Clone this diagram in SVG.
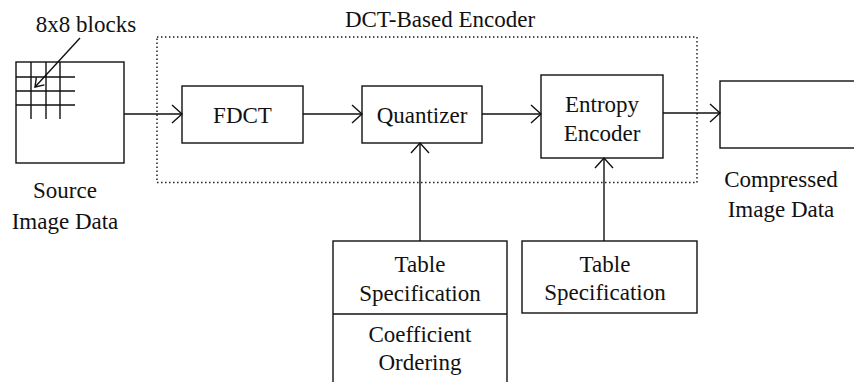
<svg xmlns="http://www.w3.org/2000/svg" width="854" height="382" viewBox="0 0 854 382">
<style>
.box{fill:none;stroke:#111;stroke-width:1.4}
.ln{fill:none;stroke:#111;stroke-width:1.4}
.t{font-family:"Liberation Serif","Times New Roman",serif;font-size:23px;fill:#111;text-anchor:middle}
.dot{fill:none;stroke:#111;stroke-width:1.4;stroke-dasharray:1.4 2.6}
</style>
<defs>
<marker id="arr" markerUnits="userSpaceOnUse" markerWidth="24" markerHeight="24" viewBox="-12 -12 24 24" refX="0" refY="0" orient="auto">
<path d="M-10,-9 L0,0 L-10,9" fill="none" stroke="#111" stroke-width="1.4"/>
</marker>
<marker id="arrs" markerUnits="userSpaceOnUse" markerWidth="20" markerHeight="20" viewBox="-10 -10 20 20" refX="0" refY="0" orient="auto">
<path d="M-8,-5.5 L0,0 L-8,5.5" fill="none" stroke="#111" stroke-width="1.4"/>
</marker>
</defs>
<g id="encoder">
<rect class="dot" x="157" y="37" width="540" height="145.5"/>
<text class="t" x="440" y="27">DCT-Based Encoder</text>
</g>
<g id="source">
<rect class="box" x="16" y="62" width="108" height="101"/>
<path class="ln" d="M31,62V119M46,62V119M60,62V119M16,77H75M16,91H75M16,105H75"/>
<text class="t" x="86" y="32">8x8 blocks</text>
<text class="t" x="65" y="198">Source</text>
<text class="t" x="65" y="229">Image Data</text>
</g>
<g id="fdct">
<rect class="box" x="182" y="86" width="121" height="57"/>
<text class="t" x="242.5" y="123">FDCT</text>
</g>
<g id="quantizer">
<rect class="box" x="362" y="86" width="120" height="57"/>
<text class="t" x="422" y="123">Quantizer</text>
</g>
<g id="entropy">
<rect class="box" x="541" y="75" width="122" height="83"/>
<text class="t" x="602" y="112">Entropy</text>
<text class="t" x="602" y="141">Encoder</text>
</g>
<g id="compressed">
<rect class="box" x="720" y="81" width="150" height="67"/>
<text class="t" x="781" y="187">Compressed</text>
<text class="t" x="781" y="217">Image Data</text>
</g>
<g id="qtable">
<rect class="box" x="333" y="241" width="174" height="160"/>
<path class="ln" d="M333,314H507"/>
<text class="t" x="420" y="272">Table</text>
<text class="t" x="420" y="301">Specification</text>
<text class="t" x="420" y="342">Coefficient</text>
<text class="t" x="420" y="370">Ordering</text>
</g>
<g id="etable">
<rect class="box" x="522" y="241" width="175" height="72"/>
<text class="t" x="605" y="272">Table</text>
<text class="t" x="605" y="300">Specification</text>
</g>
<g id="connectors">
<path class="ln" d="M124,114H182" marker-end="url(#arr)"/>
<path class="ln" d="M303,114H362" marker-end="url(#arr)"/>
<path class="ln" d="M482,114H541" marker-end="url(#arr)"/>
<path class="ln" d="M663,113H720" marker-end="url(#arr)"/>
<path class="ln" d="M420,241V143" marker-end="url(#arr)"/>
<path class="ln" d="M604,241V158" marker-end="url(#arr)"/>
<path class="ln" d="M80,38L35,87" marker-end="url(#arrs)"/>
</g>
</svg>
